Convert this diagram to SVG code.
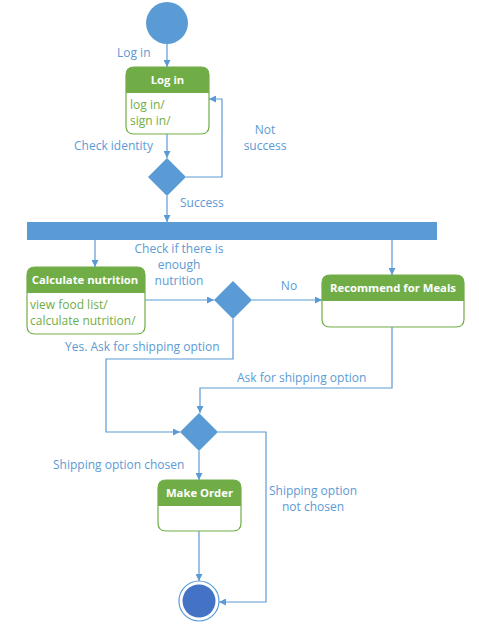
<svg xmlns="http://www.w3.org/2000/svg" width="479" height="629" viewBox="0 0 479 629">
<style>
.lbl{font-family:"Open Sans","Noto Sans",sans-serif;font-size:12px;fill:#5B9BD5}
.hdr{font-family:"Open Sans","Noto Sans",sans-serif;font-size:11.3px;font-weight:bold;fill:#FFFFFF;text-anchor:middle}
.body{font-family:"Open Sans","Noto Sans",sans-serif;font-size:12px;fill:#70AD47}
.box{fill:#FFFFFF;stroke:#70AD47;stroke-width:1.2}
.head{fill:#70AD47}
.dia{fill:#5B9BD5}
.edge{fill:none;stroke:#5B9BD5;stroke-width:1.2;marker-end:url(#arr)}
</style>
<defs>
<marker id="arr" viewBox="0 0 10 10" refX="10" refY="5" markerWidth="7" markerHeight="7" markerUnits="userSpaceOnUse" orient="auto">
<path d="M0,0 L10,5 L0,10 z" fill="#5B9BD5"/>
</marker>
</defs>
<rect width="479" height="629" fill="#FFFFFF"/>

<g id="start"><circle cx="167" cy="23" r="21" fill="#5B9BD5"/></g>

<g id="login">
<path class="box" d="M134,67 H201 Q209,67 209,75 V126 Q209,134 201,134 H134 Q126,134 126,126 V75 Q126,67 134,67 Z"/>
<path class="head" d="M134,67 H201 Q209,67 209,75 V93 H126 V75 Q126,67 134,67 Z"/>
<text class="hdr" x="167.5" y="84">Log in</text>
<text class="body" x="130" y="109">log in/</text>
<text class="body" x="130" y="125">sign in/</text>
</g>

<g id="d1"><polygon class="dia" points="167,158 186,177 167,196 148,177"/></g>

<g id="bar"><rect x="27" y="222" width="410" height="18" fill="#5B9BD5"/></g>

<g id="calc">
<path class="box" d="M35,267 H137 Q145,267 145,275 V326 Q145,334 137,334 H35 Q27,334 27,326 V275 Q27,267 35,267 Z"/>
<path class="head" d="M35,267 H137 Q145,267 145,275 V293 H27 V275 Q27,267 35,267 Z"/>
<text class="hdr" x="85" y="284">Calculate nutrition</text>
<text class="body" x="30" y="309">view food list/</text>
<text class="body" x="30" y="325">calculate nutrition/</text>
</g>

<g id="d2"><polygon class="dia" points="233,281 252,300 233,319 214,300"/></g>

<g id="recommend">
<path class="box" d="M330,275 H456 Q464,275 464,283 V319 Q464,327 456,327 H330 Q322,327 322,319 V283 Q322,275 330,275 Z"/>
<path class="head" d="M330,275 H456 Q464,275 464,283 V301 H322 V283 Q322,275 330,275 Z"/>
<text class="hdr" x="393" y="292">Recommend for Meals</text>
</g>

<g id="d3"><polygon class="dia" points="199,413 218,432 199,451 180,432"/></g>

<g id="makeorder">
<path class="box" d="M166,480 H233 Q241,480 241,488 V523 Q241,531 233,531 H166 Q158,531 158,523 V488 Q158,480 166,480 Z"/>
<path class="head" d="M166,480 H233 Q241,480 241,488 V506 H158 V488 Q158,480 166,480 Z"/>
<text class="hdr" x="199.5" y="497">Make Order</text>
</g>

<g id="end">
<circle cx="199" cy="601" r="20" fill="#FFFFFF" stroke="#5B9BD5" stroke-width="1.2"/>
<circle cx="199" cy="601" r="16.5" fill="#4472C4"/>
</g>

<g id="connectors">
<path class="edge" d="M167,44 V67"/>
<path class="edge" d="M167,134 V158"/>
<path class="edge" d="M186,177 H222 V99 H209"/>
<path class="edge" d="M167,196 V222"/>
<path class="edge" d="M95,240 V267"/>
<path class="edge" d="M392,240 V275"/>
<path class="edge" d="M145,300 H214"/>
<path class="edge" d="M252,300 H322"/>
<path class="edge" d="M233,319 V359 H106 V432 H180"/>
<path class="edge" d="M392,327 V388 H200 V413"/>
<path class="edge" d="M199,451 V480"/>
<path class="edge" d="M218,432 H266 V602 H219"/>
<path class="edge" d="M199,531 V581"/>
</g>

<g id="labels">
<text class="lbl" x="117" y="57">Log in</text>
<text class="lbl" x="74" y="150">Check identity</text>
<text class="lbl" x="265" y="134" text-anchor="middle">Not</text>
<text class="lbl" x="265" y="150" text-anchor="middle">success</text>
<text class="lbl" x="180" y="207">Success</text>
<text class="lbl" x="179" y="253" text-anchor="middle">Check if there is</text>
<text class="lbl" x="179" y="269" text-anchor="middle">enough</text>
<text class="lbl" x="179" y="285" text-anchor="middle">nutrition</text>
<text class="lbl" x="289" y="290" text-anchor="middle">No</text>
<text class="lbl" x="65" y="351">Yes. Ask for shipping option</text>
<text class="lbl" x="237" y="382">Ask for shipping option</text>
<text class="lbl" x="53" y="469">Shipping option chosen</text>
<text class="lbl" x="313" y="495" text-anchor="middle">Shipping option</text>
<text class="lbl" x="313" y="511" text-anchor="middle">not chosen</text>
</g>
</svg>
